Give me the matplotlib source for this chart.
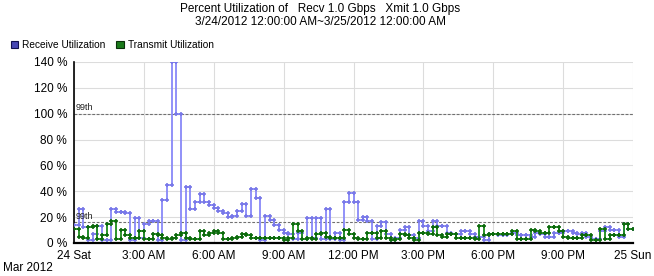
import matplotlib.pyplot as plt
import numpy as np

plt.rcParams['font.family'] = ['Liberation Sans', 'DejaVu Sans']

# 12-minute samples over 24 Mar 2012
sample_hours = 0.2

receive = [14, 26, 12, 2, 7, 13, 2, 2, 26, 24, 24, 23, 2, 19, 4, 15, 17, 17, 2, 33, 45, 140, 100, 2, 43,
           26, 32, 38, 32, 29, 27, 25, 23, 20, 21, 25, 30, 21, 42, 35, 2, 21, 18, 14, 10, 8, 7, 3,
           8, 3, 19, 4, 19, 3, 26, 3, 8, 2, 32, 39, 32, 18, 20, 17, 3, 13, 16, 7, 2, 4, 10, 12, 6,
           4, 17, 13, 9, 17, 13, 13, 8, 7, 7, 9, 9, 7, 5, 5, 2, 7, 7, 6, 6, 7, 8, 6,
           6, 6, 5, 8, 7, 5, 5, 8, 8, 9, 9, 8, 7, 8, 5, 3, 3, 9, 12, 10, 10, 5, 15, 11]
transmit = [11, 5, 4, 12, 13, 3, 6, 15, 17, 3, 10, 6, 4, 4, 9, 3, 3, 7, 6, 4, 3, 4, 6, 8, 4,
            3, 3, 9, 6, 8, 9, 8, 3, 3, 4, 5, 7, 6, 4, 4, 4, 4, 4, 4, 4, 2, 4, 15,
            9, 3, 4, 3, 7, 8, 5, 4, 4, 4, 10, 7, 4, 3, 3, 8, 8, 4, 9, 4, 2, 3, 7, 6, 4,
            2, 8, 8, 7, 12, 6, 5, 7, 7, 4, 4, 4, 4, 3, 13, 6, 7, 7, 7, 7, 7, 9, 3,
            3, 3, 10, 9, 8, 8, 12, 12, 9, 5, 4, 4, 4, 6, 6, 2, 2, 11, 3, 6, 6, 6, 15, 11]

percentile_99 = [100, 16]
tick_hours = [0, 3, 6, 9, 12, 15, 18, 21, 24]
tick_labels = ['24 Sat', '3:00 AM', '6:00 AM', '9:00 AM', '12:00 PM', '3:00 PM', '6:00 PM', '9:00 PM', '25 Sun']
y_ticks = [0, 20, 40, 60, 80, 100, 120, 140]

fig = plt.figure(figsize=(6.54, 2.76), dpi=100)
ax = fig.add_axes([0.1131, 0.1196, 0.8549, 0.6558])

def draw_steps(values, line_color, marker_color, z):
    vals = np.array(values, dtype=float)
    t = np.arange(len(vals)) * sample_hours
    t_edges = np.append(t, t[-1] + sample_hours)
    ax.plot(t_edges, np.append(vals, vals[-1]), drawstyle='steps-post', color=line_color, lw=1.3, zorder=z)
    ax.plot(t, vals, '+', ms=3, mew=1.2, color=marker_color, zorder=z + 0.1)
    ax.plot(t + sample_hours, vals, '+', ms=3, mew=1.2, color=marker_color, zorder=z + 0.1)

draw_steps(receive, '#8888f8', '#7878e8', 3)
draw_steps(transmit, '#1c8c1c', '#0d6a0d', 4)

for p in percentile_99:
    ax.axhline(p, color='#707070', lw=0.8, ls=(0, (2.5, 1.5)), zorder=2)
    ax.text(0.05, p + 1.2, '99th', fontsize=6.5, ha='left', va='bottom', color='#202020')

ax.set_xlim(0, 24)
ax.set_ylim(0, 140)
ax.set_xticks(tick_hours)
ax.set_xticklabels(tick_labels, fontsize=8.5)
ax.set_yticks(y_ticks)
ax.set_yticklabels([f'{v} %' for v in y_ticks], fontsize=8.5)
ax.tick_params(length=0, pad=5)
ax.grid(True, color='#dcdcdc', lw=0.8)
ax.set_axisbelow(True)
for s in ['top', 'right']:
    ax.spines[s].set_visible(False)
ax.spines['left'].set_linewidth(1.2)
ax.spines['bottom'].set_linewidth(1.6)

fig.text(0.49, 0.967, 'Percent Utilization of   Recv 1.0 Gbps   Xmit 1.0 Gbps', ha='center', va='center', fontsize=8.5)
fig.text(0.49, 0.92, '3/24/2012 12:00:00 AM~3/25/2012 12:00:00 AM', ha='center', va='center', fontsize=8.5)
fig.text(0.005, 0.03, 'Mar 2012', ha='left', va='center', fontsize=8.5)

# legend squares
fig.patches.append(plt.Rectangle((0.017, 0.825), 0.011, 0.026, transform=fig.transFigure,
                                 facecolor='#4646b4', edgecolor='#101050', lw=0.8))
fig.text(0.034, 0.838, 'Receive Utilization', ha='left', va='center', fontsize=7.3)
fig.patches.append(plt.Rectangle((0.178, 0.825), 0.011, 0.026, transform=fig.transFigure,
                                 facecolor='#1a7a1a', edgecolor='#0a300a', lw=0.8))
fig.text(0.195, 0.838, 'Transmit Utilization', ha='left', va='center', fontsize=7.3)

fig.savefig('out.png', dpi=100)
